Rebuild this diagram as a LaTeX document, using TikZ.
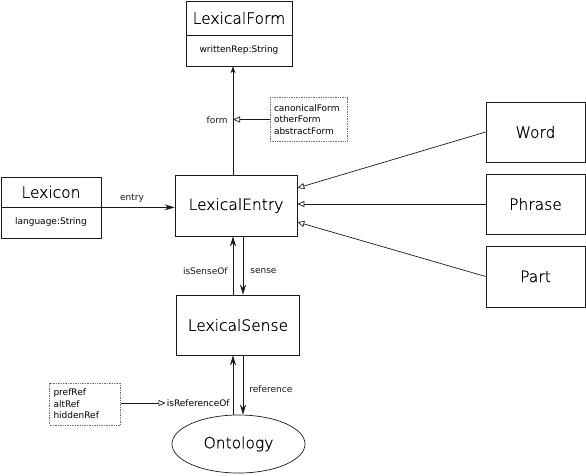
\documentclass[tikz,border=0pt]{standalone}
\usepackage{fontspec}
\setmainfont{DejaVu Sans}
\newfontfamily\thinfont[FakeBold=0.8]{DejaVu Sans ExtraLight}
\usepackage{xcolor}
\usetikzlibrary{arrows.meta,shapes.geometric}
\definecolor{LemonInk}{HTML}{1A1A1A}
\definecolor{LemonNote}{HTML}{707070}

\begin{document}
\begin{tikzpicture}[x=1pt, y=-1pt, line width=0.7pt, draw=LemonInk,
  big/.style={font=\thinfont\fontsize{15.5}{18}\selectfont},
  lbl/.style={font=\fontsize{9}{11.5}\selectfont, inner sep=1pt},
  cls/.style={draw=LemonInk, big, inner sep=0pt, minimum width=122pt, minimum height=61pt},
  part/.style={draw=LemonInk, inner sep=0pt, minimum width=#1},
  note/.style={draw=LemonNote, densely dotted, lbl, align=left, inner sep=4pt, anchor=center},
  arr/.style={-{Stealth[length=10pt,width=6pt]}, LemonInk},
  isa/.style={-{Triangle[open,length=7pt,width=6pt]}, LemonInk}]
\useasboundingbox (0,0) rectangle (586,475);

\node[part=106pt, big, minimum height=34pt] (formT) at (239,18) {LexicalForm};
\node[part=106pt, lbl, minimum height=31pt] (formA) at (239,50.5) {writtenRep:String};
\node[part=100pt, big, minimum height=30pt] (lexT) at (51,192) {Lexicon};
\node[part=100pt, lbl, minimum height=31pt] (lexA) at (51,222.5) {language:String};
\node[cls] (entry) at (236,205.5) {LexicalEntry};
\node[cls, minimum width=123pt, minimum height=60pt] (sense) at (238,325) {LexicalSense};
\node[draw=LemonInk, ellipse, big, minimum width=133pt, minimum height=58pt, inner sep=0pt] (onto) at (238.5,444) {Ontology};
\node[cls, minimum width=99pt, minimum height=60pt] (word) at (535.5,132) {Word};
\node[cls, minimum width=99pt, minimum height=60pt] (phrase) at (535.5,204) {Phrase};
\node[cls, minimum width=99pt, minimum height=61pt] (part) at (535.5,276.5) {Part};
\node[note, text width=69pt, minimum height=44pt] (formNote) at (308.5,119.5) {canonicalForm\\otherForm\\abstractForm};
\node[note, text width=63pt, minimum height=42pt] (refNote) at (85,404) {prefRef\\altRef\\hiddenRef};
\node[lbl, anchor=east] (refLbl) at (231,403) {isReferenceOf};

\coordinate (upX) at ([xshift=-3pt]entry.north);
\coordinate (downX) at ([xshift=7pt]entry.south);

\draw[arr, -{Stealth[length=7pt,width=5pt]}] (upX) -- node[lbl, left=4pt] {form} (upX |- formA.south);
\draw[isa] (formNote.west) -- (formNote.west -| upX);
\draw[arr] (lexT.south east) -- node[lbl, above=4pt, xshift=-6pt] {entry} (lexT.south east -| entry.west);
\draw[isa] (word.west) -- ([yshift=17.5pt]entry.east);
\draw[isa] (phrase.west) -- (phrase.west -| entry.east);
\draw[isa] (part.west) -- ([yshift=-16.5pt]entry.east);
\draw[arr] (sense.north -| upX) -- node[lbl, left=4pt, pos=0.4] {isSenseOf} (entry.south -| upX);
\draw[arr] (downX) -- node[lbl, right=6pt, pos=0.6] {sense} (downX |- sense.north);
\draw[arr] (onto.north -| upX) -- (sense.south -| upX);
\draw[arr] (sense.south -| downX) -- node[lbl, right=5pt, pos=0.57] {reference} (onto.north -| downX);
\draw[isa] (refNote.east |- refLbl) -- (refLbl.west);
\end{tikzpicture}
\end{document}
